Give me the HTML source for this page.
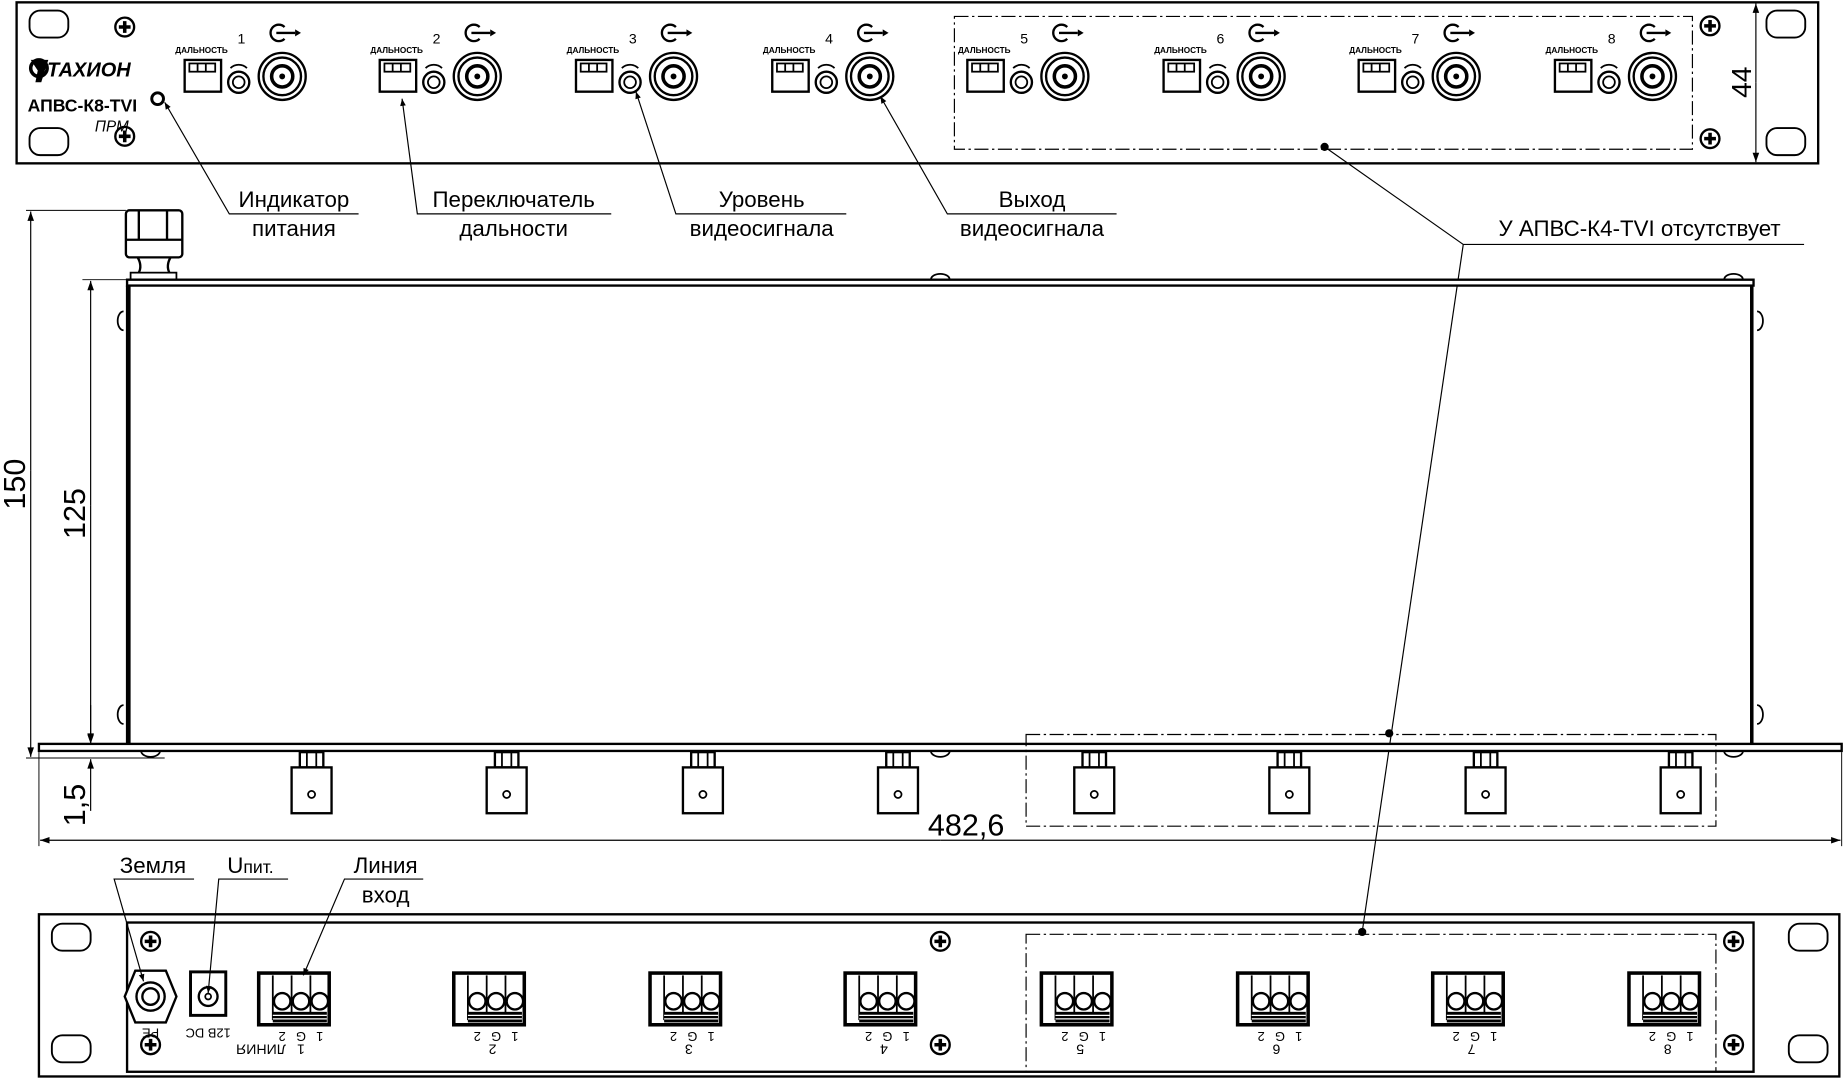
<!DOCTYPE html>
<html><head><meta charset="utf-8"><style>html,body{margin:0;padding:0;background:#fff}svg{display:block}</style></head><body>
<svg width="1843" height="1080" viewBox="0 0 1568 919" xmlns="http://www.w3.org/2000/svg" font-family="Liberation Sans, sans-serif">
<defs>
<g id="screw"><circle r="8" fill="#fff" stroke="#000" stroke-width="2"/><path d="M-5 0H5M0 -5V5" stroke="#000" stroke-width="3"/></g>
<g id="slot"><rect x="-16" y="-11" width="33" height="23" rx="9" fill="#fff" stroke="#000" stroke-width="1.6"/></g>
<g id="chan">
<text x="-8" y="-2" font-size="7" font-weight="bold">ДАЛЬНОСТЬ</text>
<rect x="0" y="4" width="31" height="27" fill="#fff" stroke="#000" stroke-width="2"/>
<rect x="4" y="7" width="22" height="7" fill="none" stroke="#000" stroke-width="1.5"/>
<path d="M11 7V14M18 7V14" stroke="#000" stroke-width="1.5"/>
<circle cx="46" cy="23" r="9" fill="none" stroke="#000" stroke-width="2"/>
<circle cx="46" cy="23" r="5" fill="none" stroke="#000" stroke-width="1.5"/>
<path d="M39 11 A10 10 0 0 1 53 11" fill="none" stroke="#000" stroke-width="1.5"/>
<circle cx="83" cy="18" r="20" fill="none" stroke="#000" stroke-width="2"/>
<circle cx="83" cy="18" r="16" fill="none" stroke="#000" stroke-width="2"/>
<circle cx="83" cy="18" r="9" fill="none" stroke="#000" stroke-width="3"/>
<circle cx="83" cy="18" r="2.5" fill="#000"/>
<path d="M85 -24 A7 7 0 1 0 85 -14" fill="none" stroke="#000" stroke-width="2"/>
<path d="M78 -19H94" stroke="#000" stroke-width="2"/><path d="M94 -22L99 -19L94 -16Z"/>
</g>
<g id="bnc">
<rect x="-10" y="0" width="20" height="13" fill="#fff" stroke="#000" stroke-width="2"/>
<path d="M-4 0V13M4 0V13" stroke="#000" stroke-width="1.5"/>
<rect x="-17" y="13" width="34" height="39" fill="#fff" stroke="#000" stroke-width="2"/>
<circle cx="0" cy="36" r="3" fill="none" stroke="#000" stroke-width="1.5"/>
</g>
<g id="term">
<rect x="0" y="0" width="60" height="44" fill="#fff" stroke="#000" stroke-width="3"/>
<path d="M12 2V40M28 2V40M44 2V40" stroke="#000" stroke-width="1.5"/>
<circle cx="20" cy="24" r="7" fill="#fff" stroke="#000" stroke-width="2"/>
<circle cx="36" cy="24" r="7" fill="#fff" stroke="#000" stroke-width="2"/>
<circle cx="52" cy="24" r="7" fill="#fff" stroke="#000" stroke-width="2"/>
<rect x="12" y="33" width="46" height="9" fill="#000"/>
<path d="M12 36H58M12 39H58" stroke="#fff" stroke-width="1"/>
<g font-size="11" text-anchor="middle">
<text transform="translate(20,50) rotate(180)">2</text>
<text transform="translate(36,50) rotate(180)">G</text>
<text transform="translate(52,50) rotate(180)">1</text>
</g>
</g>
<marker id="ar" viewBox="0 0 10 10" refX="10" refY="5" markerWidth="14" markerHeight="6" orient="auto" markerUnits="userSpaceOnUse"><path d="M0 1L10 5L0 9Z"/></marker>
<marker id="da" viewBox="0 0 10 10" refX="10" refY="5" markerWidth="26" markerHeight="8" orient="auto" markerUnits="userSpaceOnUse"><path d="M0 1.5L10 5L0 8.5Z"/></marker>
</defs>

<!-- TOP PANEL -->
<rect x="14" y="2" width="1533" height="137" fill="none" stroke="#000" stroke-width="2"/>
<use href="#slot" x="41" y="20"/><use href="#slot" x="41" y="120"/>
<use href="#slot" x="1519" y="20"/><use href="#slot" x="1519" y="120"/>
<use href="#screw" x="106" y="23"/><use href="#screw" x="106" y="116"/>
<use href="#screw" x="1455" y="22"/><use href="#screw" x="1455" y="118"/>
<path d="M26 51H41L38 60L35 70H30L32 60Z" fill="#000"/>
<circle cx="33" cy="58" r="7" fill="none" stroke="#000" stroke-width="3"/>
<text x="40" y="65" font-size="17" font-weight="bold" font-style="italic">ТАХИОН</text>
<text x="70" y="95" font-size="15" font-weight="bold" text-anchor="middle">АПВС-К8-TVI</text>
<text x="95" y="112" font-size="13" font-style="italic" text-anchor="middle">ПРМ</text>
<circle cx="134" cy="84" r="5" fill="none" stroke="#000" stroke-width="2.5"/>
<g>
<use href="#chan" x="157" y="47"/><use href="#chan" x="323" y="47"/><use href="#chan" x="490" y="47"/><use href="#chan" x="657" y="47"/>
<use href="#chan" x="823" y="47"/><use href="#chan" x="990" y="47"/><use href="#chan" x="1156" y="47"/><use href="#chan" x="1323" y="47"/>
</g>
<g font-size="12">
<text x="202" y="37">1</text><text x="368" y="37">2</text><text x="535" y="37">3</text><text x="702" y="37">4</text>
<text x="868" y="37">5</text><text x="1035" y="37">6</text><text x="1201" y="37">7</text><text x="1368" y="37">8</text>
</g>
<rect x="812" y="14" width="628" height="113" fill="none" stroke="#000" stroke-width="1" stroke-dasharray="12,3,2,3"/>
<line x1="1494" y1="70" x2="1494" y2="3" stroke="#000" stroke-width="1" marker-end="url(#da)"/>
<line x1="1494" y1="70" x2="1494" y2="138" stroke="#000" stroke-width="1" marker-end="url(#da)"/>
<text transform="translate(1490,70) rotate(-90)" font-size="24" text-anchor="middle">44</text>

<g font-size="19" text-anchor="middle">
<text x="250" y="176">Индикатор</text><text x="250" y="201">питания</text>
<text x="437" y="176">Переключатель</text><text x="437" y="201">дальности</text>
<text x="648" y="176">Уровень</text><text x="648" y="201">видеосигнала</text>
<text x="878" y="176">Выход</text><text x="878" y="201">видеосигнала</text>
<text x="1395" y="201">У АПВС-К4-TVI отсутствует</text>
</g>
<g stroke="#000" stroke-width="1" fill="none">
<path d="M305 182H195L140 87" marker-end="url(#ar)"/>
<path d="M520 182H355L342 84" marker-end="url(#ar)"/>
<path d="M720 182H575L541 78" marker-end="url(#ar)"/>
<path d="M950 182H806L749 82" marker-end="url(#ar)"/>
<path d="M1535 208H1245L1127 125"/>
<path d="M1245 208L1159 793"/>
</g>
<circle cx="1127" cy="125" r="3.5"/><circle cx="1182" cy="624" r="3.5"/><circle cx="1159" cy="793" r="3.5"/>

<!-- SIDE VIEW -->
<g stroke="#000" fill="#fff">
<rect x="107" y="179" width="48" height="40" rx="3" stroke-width="2"/>
<path d="M107 204H155M118 179V204M142 179V204" stroke-width="2"/>
<path d="M117 219Q121 226 118 232M145 219Q141 226 144 232" fill="none" stroke-width="2"/>
<rect x="111" y="232" width="39" height="6" stroke-width="1.5"/>
<rect x="108" y="238" width="1384" height="5" stroke-width="2"/>
<rect x="107" y="243" width="4" height="393" fill="#000" stroke="none"/>
<rect x="1489" y="243" width="3" height="393" fill="#000" stroke="none"/>
<rect x="33" y="633" width="1534" height="6" stroke-width="2"/>
<path d="M105 265a5 8 0 0 0 0 16M105 600a5 8 0 0 0 0 16M1495 265a5 8 0 0 1 0 16M1495 600a5 8 0 0 1 0 16" fill="none" stroke-width="1.5"/>
<path d="M120 639a8 5 0 0 0 16 0M792 639a8 5 0 0 0 16 0M1467 639a8 5 0 0 0 16 0M792 238a8 5 0 0 1 16 0M1467 238a8 5 0 0 1 16 0" fill="none" stroke-width="1.5"/>
</g>
<use href="#bnc" x="265" y="640"/><use href="#bnc" x="431" y="640"/><use href="#bnc" x="598" y="640"/><use href="#bnc" x="764" y="640"/>
<use href="#bnc" x="931" y="640"/><use href="#bnc" x="1097" y="640"/><use href="#bnc" x="1264" y="640"/><use href="#bnc" x="1430" y="640"/>
<rect x="873" y="625" width="587" height="78" fill="none" stroke="#000" stroke-width="1" stroke-dasharray="12,3,2,3"/>
<g stroke="#000" stroke-width="0.8" fill="none">
<line x1="22" y1="179" x2="107" y2="179"/><line x1="22" y1="645" x2="140" y2="645"/>
<line x1="70" y1="238" x2="108" y2="238"/>
<line x1="33" y1="640" x2="33" y2="720"/><line x1="1567" y1="640" x2="1567" y2="720"/>
</g>
<g stroke="#000" stroke-width="1" fill="none">
<line x1="26" y1="400" x2="26" y2="180" marker-end="url(#da)"/><line x1="26" y1="400" x2="26" y2="644" marker-end="url(#da)"/>
<line x1="77" y1="430" x2="77" y2="239" marker-end="url(#da)"/><line x1="77" y1="430" x2="77" y2="632" marker-end="url(#da)"/>
<line x1="77" y1="600" x2="77" y2="633" marker-end="url(#da)"/><line x1="77" y1="690" x2="77" y2="646" marker-end="url(#da)"/>
<line x1="800" y1="715" x2="34" y2="715" marker-end="url(#da)"/><line x1="800" y1="715" x2="1566" y2="715" marker-end="url(#da)"/>
</g>
<text transform="translate(21,412) rotate(-90)" font-size="26" text-anchor="middle">150</text>
<text transform="translate(72,437) rotate(-90)" font-size="26" text-anchor="middle">125</text>
<text transform="translate(72,685) rotate(-90)" font-size="26" text-anchor="middle">1,5</text>
<text x="822" y="711" font-size="26" text-anchor="middle">482,6</text>

<!-- BOTTOM PANEL -->
<rect x="33" y="778" width="1532" height="138" fill="none" stroke="#000" stroke-width="2"/>
<rect x="108" y="785" width="1384" height="127" fill="none" stroke="#000" stroke-width="2"/>
<use href="#slot" x="60" y="797"/><use href="#slot" x="60" y="892"/>
<use href="#slot" x="1538" y="797"/><use href="#slot" x="1538" y="892"/>
<use href="#screw" x="128" y="801"/><use href="#screw" x="128" y="889"/>
<use href="#screw" x="800" y="801"/><use href="#screw" x="800" y="889"/>
<use href="#screw" x="1475" y="801"/><use href="#screw" x="1475" y="889"/>
<path d="M115 826L141 826L150 848L141 870L115 870L106 848Z" fill="#fff" stroke="#000" stroke-width="2"/>
<circle cx="128" cy="848" r="12" fill="none" stroke="#000" stroke-width="2"/>
<circle cx="128" cy="848" r="7" fill="none" stroke="#000" stroke-width="2"/>
<rect x="162" y="827" width="30" height="37" fill="#fff" stroke="#000" stroke-width="2.5"/>
<circle cx="177" cy="848" r="8" fill="none" stroke="#000" stroke-width="2"/>
<circle cx="177" cy="848" r="2.5" fill="none" stroke="#000" stroke-width="1.5"/>
<text transform="translate(128,875) rotate(180)" font-size="11" text-anchor="middle">PE</text>
<text transform="translate(177,875) rotate(180)" font-size="11" text-anchor="middle">12В DC</text>
<use href="#term" x="220" y="828"/><use href="#term" x="386" y="828"/><use href="#term" x="553" y="828"/><use href="#term" x="719" y="828"/>
<use href="#term" x="886" y="828"/><use href="#term" x="1053" y="828"/><use href="#term" x="1219" y="828"/><use href="#term" x="1386" y="828"/>
<g font-size="12" text-anchor="middle">
<text transform="translate(222,889) rotate(180)">ЛИНИЯ</text>
<text transform="translate(256,889) rotate(180)">1</text><text transform="translate(419,889) rotate(180)">2</text>
<text transform="translate(586,889) rotate(180)">3</text><text transform="translate(752,889) rotate(180)">4</text>
<text transform="translate(919,889) rotate(180)">5</text><text transform="translate(1086,889) rotate(180)">6</text>
<text transform="translate(1252,889) rotate(180)">7</text><text transform="translate(1419,889) rotate(180)">8</text>
</g>
<rect x="873" y="795" width="587" height="117" fill="none" stroke="#000" stroke-width="1" stroke-dasharray="12,3,2,3"/>
<g font-size="19" text-anchor="middle">
<text x="130" y="743">Земля</text>
<text x="213" y="743">U<tspan font-size="15">пит.</tspan></text>
<text x="328" y="743">Линия</text><text x="328" y="768">вход</text>
</g>
<g stroke="#000" stroke-width="1" fill="none">
<path d="M165 748H97L122 835" marker-end="url(#ar)"/>
<path d="M245 748H186L177 845" marker-end="url(#ar)"/>
<path d="M360 748H293L258 830" marker-end="url(#ar)"/>
</g>
</svg>
</body></html>
